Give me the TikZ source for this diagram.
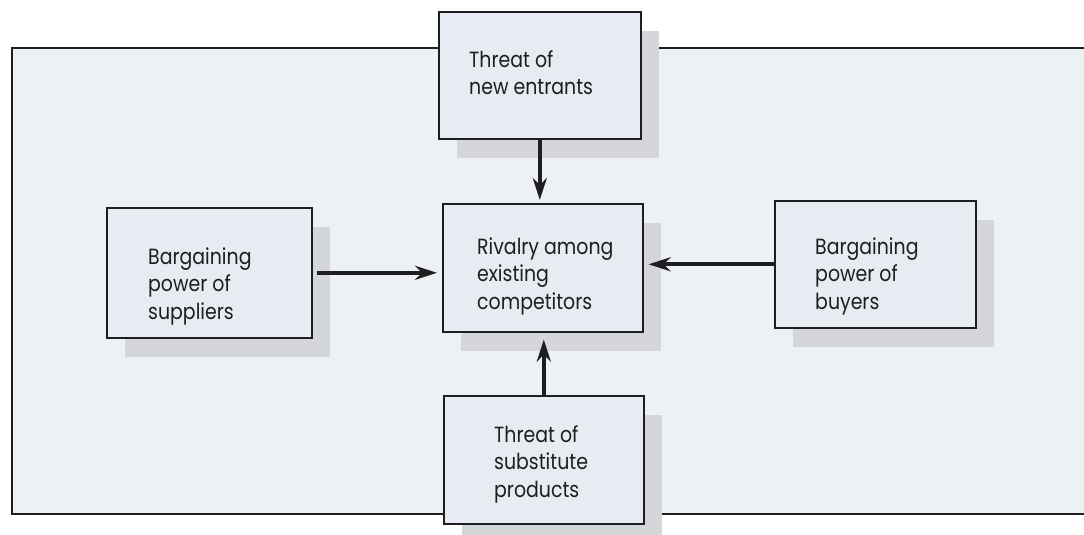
\documentclass[tikz,border=0pt]{standalone}
\usepackage{fontspec}
\setmainfont{Poppins}[FakeStretch=0.86]
\usetikzlibrary{arrows.meta,shadows}
\definecolor{panelfill}{RGB}{237,241,246}
\definecolor{boxfill}{RGB}{231,236,242}
\definecolor{shadowgray}{RGB}{212,214,217}
\definecolor{ink}{RGB}{30,30,30}
\begin{document}
\begin{tikzpicture}[x=1pt,y=1pt,>={Stealth[length=22pt,width=14pt]},
  force/.style={draw=ink,line width=1.6pt,fill=boxfill,anchor=north west,inner sep=0pt,
    drop shadow={shadow xshift=18pt,shadow yshift=-19pt,fill=shadowgray,opacity=1}},
  txt/.style={anchor=base west,align=left,inner sep=0pt,text=ink,font=\fontsize{22}{27.5}\selectfont},
  push/.style={->,line width=4pt,draw=ink,shorten >=5pt}]
\useasboundingbox (0,0) rectangle (1084,-535);
% outer frame, runs off the right edge
\draw[ink,line width=1.6pt,fill=panelfill] (12,-48) rectangle (1100,-514);
% the five forces
\node[force,minimum width=202pt,minimum height=127pt] (entrants) at (438,-11) {};
\node[force,minimum width=200pt,minimum height=128pt] (rivalry) at (442,-203) {};
\node[force,minimum width=205pt,minimum height=130pt] (suppliers) at (106,-207) {};
\node[force,minimum width=201pt,minimum height=127pt] (buyers) at (774,-200) {};
\node[force,minimum width=200pt,minimum height=128pt] (substitutes) at (443,-395) {};
% texts, placed by the baseline of their last line
\node[txt] (entrantsText) at (469,-95) {Threat of\\new entrants};
\node[txt] (rivalryText) at (477,-309) {Rivalry among\\existing\\competitors};
\node[txt] (suppliersText) at (148,-319) {Bargaining\\power of\\suppliers};
\node[txt] (buyersText) at (815,-309) {Bargaining\\power of\\buyers};
\node[txt] (substitutesText) at (494,-497) {Threat of\\substitute\\products};
% arrows into the centre
\draw[push,shorten >=3pt] (entrants.south) -- (entrants.south |- rivalry.north);
\draw[push,shorten <=4pt] (suppliers.east) -- (suppliers.east -| rivalry.west);
\draw[push] (buyers.west) -- (buyers.west -| rivalry.east);
\draw[push,shorten >=7pt] (substitutes.north) -- (substitutes.north |- rivalry.south);
\end{tikzpicture}
\end{document}
